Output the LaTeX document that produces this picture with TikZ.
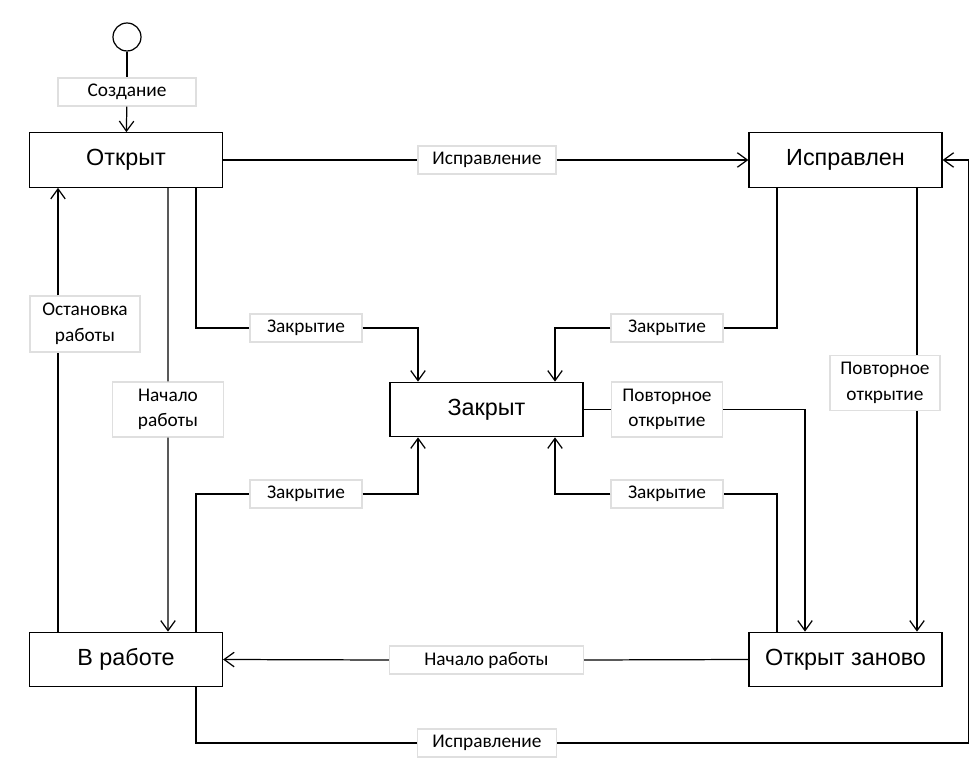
\documentclass[tikz,border=0pt]{standalone}
\usepackage{fontspec}
\setmainfont{Liberation Sans}
\newfontfamily\lblfont{Carlito}
\usetikzlibrary{arrows.meta}

\begin{document}
\begin{tikzpicture}[
    >={Straight Barb[length=2mm,width=2.9mm]},
    line width=0.7pt,
    statebox/.style={rectangle, draw, minimum width=3.86cm, minimum height=1.09cm, font=\fontsize{13.3}{15}\selectfont},
    translabel/.style={rectangle, draw=gray!25, fill=white, line width=0.6pt, minimum height=0.56cm, inner sep=1pt, align=center, font=\lblfont\fontsize{11}{14.5}\selectfont},
    startdot/.style={circle, draw, minimum size=0.56cm, inner sep=0pt}
]
\useasboundingbox (0,0) rectangle (19.6,15.38);

% === STATES ===
\node[startdot] (start) at (2.54, 14.64) {};
\node[statebox] (otkryt) at (2.52, 12.18) {Открыт};
\node[statebox] (ispravlen) at (16.91, 12.18) {Исправлен};
\node[statebox] (zakryt) at (9.73, 7.19) {Закрыт};
\node[statebox] (vrabote) at (2.52, 2.19) {В работе};
\node[statebox] (otkrytz) at (16.91, 2.19) {Открыт заново};

% === TRANSITION LABELS ===
\node[translabel, minimum width=2.76cm] (lcreate) at (2.54, 13.54) {Создание};
\node[translabel, minimum width=2.76cm] (lfixtop) at (9.74, 12.18) {Исправление};
\node[translabel, minimum width=2.24cm] (lclose1) at (6.12, 8.82) {Закрытие};
\node[translabel, minimum width=2.24cm] (lclose2) at (13.34, 8.82) {Закрытие};
\node[translabel, minimum width=2.22cm, minimum height=1.1cm] (lreopen1) at (13.34, 7.19) {Повторное\\открытие};
\node[translabel, minimum width=2.24cm] (lclose3) at (6.12, 5.50) {Закрытие};
\node[translabel, minimum width=2.24cm] (lclose4) at (13.34, 5.50) {Закрытие};
\node[translabel, minimum width=2.2cm, minimum height=1.12cm] (lstop) at (1.70, 8.90) {Остановка\\работы};
\node[translabel, minimum width=2.22cm, minimum height=1.1cm] (lstart1) at (3.36, 7.19) {Начало\\работы};
\node[translabel, minimum width=2.2cm, minimum height=1.1cm] (lreopen2) at (17.70, 7.72) {Повторное\\открытие};
\node[translabel, minimum width=3.88cm] (lstart2) at (9.73, 2.18) {Начало работы};
\node[translabel, minimum width=2.78cm] (lfixbot) at (9.74, 0.52) {Исправление};

% helper points on the box edges
\coordinate (o1) at ([xshift=-1.36cm]otkryt.south);
\coordinate (v1) at ([xshift=-1.36cm]vrabote.north);
\coordinate (i2) at ([xshift=1.43cm]ispravlen.south);
\coordinate (z2) at ([xshift=1.43cm]otkrytz.north);

% === CONNECTORS ===
% creation
\draw (start) -- (lcreate);
\draw[->] (lcreate) -- (otkryt);

% Открыт -> Исправлен
\draw (otkryt.east) -- (lfixtop.west);
\draw[->] (lfixtop.east) -- (ispravlen.west);

% closing from the top
\draw ([xshift=1.4cm]otkryt.south) |- (lclose1.west);
\draw[->] (lclose1.east) -| ([xshift=-1.37cm]zakryt.north);
\draw ([xshift=-1.37cm]ispravlen.south) |- (lclose2.east);
\draw[->] (lclose2.west) -| ([xshift=1.37cm]zakryt.north);

% reopening
\draw (zakryt.east) -- (lreopen1.west);
\draw[->] (lreopen1.east) -| ([xshift=-0.81cm]otkrytz.north);
\draw (i2) -- (i2 |- lreopen2.north);
\draw[->] (i2 |- lreopen2.south) -- (z2);

% closing from the bottom
\draw ([xshift=1.4cm]vrabote.north) |- (lclose3.west);
\draw[->] (lclose3.east) -| ([xshift=-1.37cm]zakryt.south);
\draw ([xshift=-1.37cm]otkrytz.north) |- (lclose4.east);
\draw[->] (lclose4.west) -| ([xshift=1.37cm]zakryt.south);

% start / stop work
\draw ([xshift=0.84cm]otkryt.south) -- (lstart1);
\draw[->] (lstart1) -- ([xshift=0.84cm]vrabote.north);
\draw (v1) -- (v1 |- lstop.south);
\draw[->] (v1 |- lstop.north) -- (o1);

% Открыт заново -> В работе
\draw (otkrytz.west) -- (lstart2.east);
\draw[->] (lstart2.west) -- (vrabote.east);

% В работе -> Исправлен (around the right side)
\draw ([xshift=1.4cm]vrabote.south) |- (lfixbot.west);
\draw[->] (lfixbot.east) -| ([xshift=0.52cm]ispravlen.east) -- (ispravlen.east);

\end{tikzpicture}
\end{document}
